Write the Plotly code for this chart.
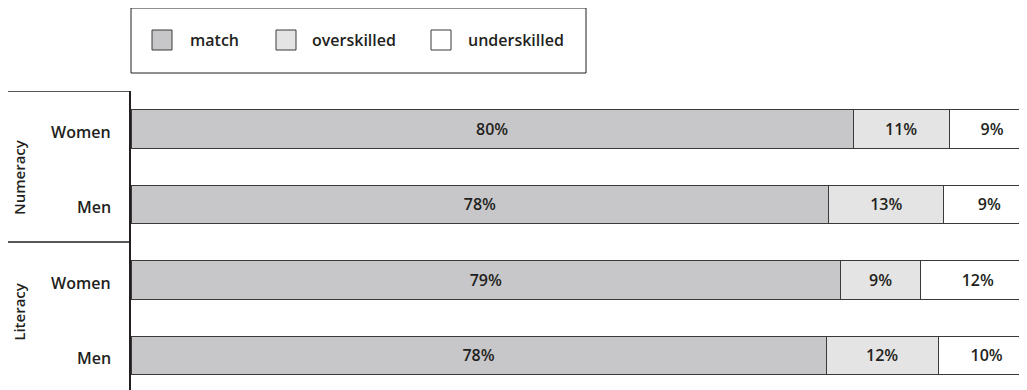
import plotly.graph_objects as go

# ---- data ----
categories = ["Numeracy Women", "Numeracy Men", "Literacy Women", "Literacy Men"]
row_labels = ["Women", "Men", "Women", "Men"]
groups = ["Numeracy", "Literacy"]
match = [79.9, 77.2, 78.5, 76.9]
overskilled = [10.6, 12.7, 8.85, 12.4]
underskilled = [9.5, 10.1, 12.65, 10.7]
match_lbl = ["80%", "78%", "79%", "78%"]
over_lbl = ["11%", "13%", "9%", "12%"]
under_lbl = ["9%", "9%", "12%", "10%"]
series_names = ["match", "overskilled", "underskilled"]

FONT = "Open Sans"
FS = 16
TXT = "#231f20"
colors = ["#c7c7c9", "#e3e4e3", "#ffffff"]
OFF = 8  # page body margin
W, H = 1027 - OFF, 390 - OFF
L, T = 131 - OFF, 91 - OFF
PW, PH = W - L, H - T

fig = go.Figure()
for vals, lbls, name, col in zip([match, overskilled, underskilled],
                                 [match_lbl, over_lbl, under_lbl],
                                 series_names, colors):
    fig.add_trace(go.Bar(
        y=categories, x=vals, name=name, orientation="h",
        marker=dict(color=col, line=dict(color="#3a3a3a", width=1)),
        text=lbls, textposition="inside", insidetextanchor="middle",
        textfont=dict(family=FONT, size=FS, color=TXT, weight=600),
        width=0.51, showlegend=False, hoverinfo="skip",
    ))

def px_x(p):
    return (p - OFF - L) / PW

def px_y(p):
    return 1 - (p - OFF - T) / PH

shapes = []
annotations = []
# legend box
shapes.append(dict(type="rect", xref="paper", yref="paper",
                   x0=px_x(131), x1=px_x(586), y0=px_y(8), y1=px_y(73),
                   line=dict(color="#231f20", width=1), fillcolor="white"))
leg_sq = [152, 276, 431]
leg_tx = [188, 310, 466]
for name, col, sx, tx in zip(series_names, colors, leg_sq, leg_tx):
    shapes.append(dict(type="rect", xref="paper", yref="paper",
                       x0=px_x(sx), x1=px_x(sx + 20), y0=px_y(30), y1=px_y(50),
                       line=dict(color="#3a3a3a", width=1), fillcolor=col))
    annotations.append(dict(text=name, xref="paper", yref="paper",
                            x=px_x(tx), y=px_y(40), xanchor="left", yanchor="middle",
                            showarrow=False,
                            font=dict(family=FONT, size=FS, color=TXT, weight=600)))

# group separators on the left
for yv in [-0.5, 1.5]:
    shapes.append(dict(type="line", xref="paper", yref="y",
                       x0=px_x(6), x1=0, y0=yv, y1=yv,
                       line=dict(color="#231f20", width=1.5)))

# row labels
for cat, lbl in zip(categories, row_labels):
    annotations.append(dict(text=lbl, xref="paper", yref="y", x=px_x(113), y=cat,
                            xanchor="right", yanchor="middle", yshift=-3,
                            showarrow=False,
                            font=dict(family=FONT, size=FS, color=TXT, weight=600)))
# group labels
for g, yc in zip(groups, [0.64, 2.41]):
    annotations.append(dict(text=g, xref="paper", yref="y", x=px_x(8), y=yc,
                            xanchor="left", yanchor="middle", textangle=-90,
                            borderpad=0, showarrow=False,
                            font=dict(family=FONT, size=15, color=TXT, weight=600)))

fig.update_layout(
    barmode="stack", width=W, height=H,
    margin=dict(l=L, r=0, t=T, b=0, pad=0),
    paper_bgcolor="white", plot_bgcolor="white",
    xaxis=dict(range=[0, PW / 9.04], visible=False, fixedrange=True),
    yaxis=dict(range=[3.46, -0.5], showticklabels=False, ticks="",
               showgrid=False, zeroline=False, showline=True,
               linecolor="#231f20", linewidth=1.5, fixedrange=True),
    shapes=shapes, annotations=annotations,
    uniformtext=dict(mode=False),
)
fig.write_html("out.html", config={"displayModeBar": False})
